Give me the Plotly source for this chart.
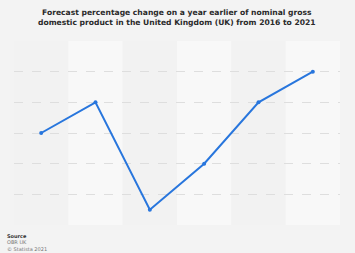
import plotly.graph_objects as go

years = ["2016", "2017", "2018", "2019", "2020", "2021"]
values = [3.0, 4.0, 0.5, 2.0, 4.0, 5.0]
title_lines = ["Forecast percentage change on a year earlier of nominal gross",
               "domestic product in the United Kingdom (UK) from 2016 to 2021"]
source_lines = ["Source", "OBR UK", "© Statista 2021"]

fig = go.Figure()
fig.add_trace(go.Scatter(
    x=list(range(len(years))), y=values, mode="lines+markers",
    line=dict(color="#2876dd", width=2),
    marker=dict(size=4, color="#2876dd"),
    hoverinfo="skip", showlegend=False))

shapes = []
for i in range(len(years)):
    shapes.append(dict(type="rect", xref="x", yref="paper", x0=i - 0.5, x1=i + 0.5,
                       y0=0, y1=1, layer="below", line=dict(width=0),
                       fillcolor="#f2f2f2" if i % 2 == 0 else "#f8f8f8"))

fig.update_layout(
    width=355, height=253,
    margin=dict(l=14, r=15, t=41, b=28),
    paper_bgcolor="#f3f3f3", plot_bgcolor="rgba(0,0,0,0)",
    shapes=shapes,
    xaxis=dict(range=[-0.5, len(years) - 0.5], showgrid=False, zeroline=False,
               showticklabels=False, fixedrange=True),
    yaxis=dict(range=[0, 6], dtick=1, showgrid=True, gridcolor="#dedede",
               griddash="dash", gridwidth=1, zeroline=False,
               showticklabels=False, fixedrange=True),
    annotations=[
        dict(text="<b>" + "<br>".join(title_lines) + "</b>", xref="paper", yref="paper",
             x=0.5, y=1, yshift=35, xanchor="center", yanchor="top", showarrow=False,
             font=dict(family="DejaVu Sans", size=7.6, color="#2a2a2a"), align="center"),
        dict(text="<b>" + source_lines[0] + "</b>", xref="paper", yref="paper",
             x=0, xshift=-9, y=0, yshift=-6, xanchor="left", yanchor="top", showarrow=False,
             font=dict(family="DejaVu Sans", size=5, color="#333333")),
        dict(text=source_lines[1] + "<br>" + source_lines[2], xref="paper", yref="paper",
             x=0, xshift=-9, y=0, yshift=-12, xanchor="left", yanchor="top", showarrow=False,
             font=dict(family="DejaVu Sans", size=5, color="#777777"), align="left"),
    ],
)

fig.write_html("out.html", config={"displayModeBar": False})
